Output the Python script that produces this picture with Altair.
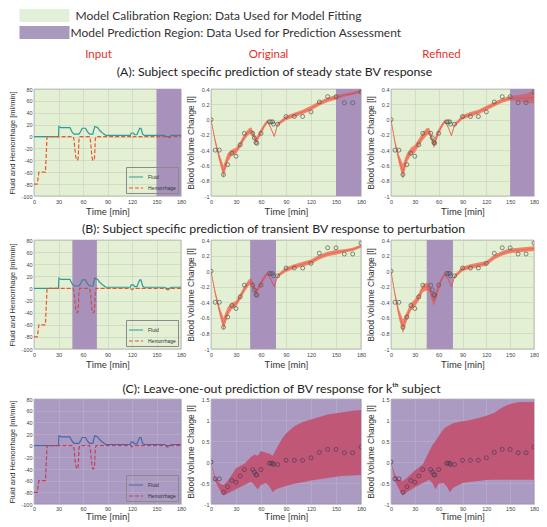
import altair as alt
import pandas as pd

# ---------------- data ----------------
time_ticks = [0, 30, 60, 90, 120, 150, 180]
input_ticks = [-100, -80, -60, -40, -20, 0, 20, 40, 60, 80]
bv_ticks_ab = [-1, -0.8, -0.6, -0.4, -0.2, 0, 0.2, 0.4]
bv_ticks_c = [-1, -0.5, 0, 0.5, 1, 1.5]

series_names = ["Fluid", "Hemorrhage"]
fluid_t = [0, 30, 30.5, 33, 44, 46.5, 49, 55, 57, 59, 63, 65.5, 68, 72, 73, 74.5, 78, 80, 83, 86,
           88, 118, 119, 122, 123, 126, 127.5, 129.5, 131, 133, 135, 160, 162, 166, 168, 180]
fluid_v = [0, 0, 17, 15, 15, 8, 4, 4, 8, 14, 14, 8, 4, 4, 10, 17, 15, 11, 7, 4,
           2, 2, 6, 6, 3, 3, 8, 14, 14, 4, 2, 2, 0, 0, 2, 2]
hem_t = [0, 4, 6, 14, 16, 48, 49, 50, 51, 52, 53, 54, 54.5, 55, 56, 68, 69, 70, 71, 72, 73, 74,
         74.5, 75, 76, 118, 120, 122, 161, 163, 166, 168, 180]
hem_v = [-80, -80, -60, -60, 0, 0, -5, -20, -33, -38, -40, -38, -25, -5, 0, 0, -5, -20, -35, -40, -40, -37,
         -25, -5, 0, 0, -2, 0, 0, -2, -2, 0, 0]

bv_t = [0, 5, 10, 15, 20, 25, 30, 35, 40, 50, 52, 54, 55, 60, 70, 72, 74, 75, 80, 90, 100, 110,
        120, 130, 140, 150, 160, 170, 180]
bv_v = [0, -0.4, -0.4, -0.72, -0.59, -0.44, -0.48, -0.33, -0.18, -0.18, -0.24, -0.30, -0.31, -0.18,
        -0.03, -0.03, -0.03, -0.06, -0.06, 0.04, 0.04, 0.04, 0.1, 0.23, 0.3, 0.3, 0.22, 0.22, 0.36]

band_t = [0, 5, 10, 15, 20, 25, 30, 35, 40, 45, 48, 51, 54, 57, 60, 64, 68, 72, 76, 80, 90, 100,
          110, 120, 130, 140, 150, 160, 170, 180]
origA_lo = [0, -0.31, -0.55, -0.76, -0.56, -0.47, -0.45, -0.37, -0.27, -0.20, -0.18, -0.24, -0.32, -0.26, -0.20,
            -0.11, -0.04, -0.13, -0.23, -0.08, -0.01, 0.03, 0.07, 0.12, 0.18, 0.23, 0.26, 0.30, 0.32, 0.35]
origA_hi = [0, -0.25, -0.45, -0.60, -0.44, -0.39, -0.37, -0.29, -0.19, -0.12, -0.10, -0.16, -0.24, -0.18, -0.12,
            -0.05, 0.00, -0.11, -0.21, -0.04, 0.05, 0.09, 0.13, 0.18, 0.24, 0.29, 0.32, 0.34, 0.36, 0.39]
refA_lo = [0, -0.33, -0.58, -0.78, -0.56, -0.47, -0.43, -0.35, -0.27, -0.21, -0.19, -0.28, -0.38, -0.29, -0.20,
           -0.11, -0.04, -0.11, -0.22, -0.09, 0.00, 0.04, 0.07, 0.12, 0.17, 0.22, 0.25, 0.24, 0.22, 0.21]
refA_hi = [0, -0.27, -0.46, -0.58, -0.44, -0.37, -0.33, -0.25, -0.17, -0.11, -0.11, -0.20, -0.28, -0.19, -0.12,
           -0.05, 0.00, -0.09, -0.20, -0.05, 0.06, 0.10, 0.13, 0.18, 0.23, 0.28, 0.31, 0.32, 0.34, 0.37]
origB_lo = [0, -0.31, -0.55, -0.76, -0.58, -0.49, -0.46, -0.37, -0.27, -0.19, -0.17, -0.23, -0.32, -0.25, -0.20,
            -0.11, -0.05, -0.12, -0.21, -0.08, -0.01, 0.03, 0.06, 0.09, 0.15, 0.19, 0.21, 0.24, 0.26, 0.30]
origB_hi = [0, -0.25, -0.45, -0.60, -0.46, -0.41, -0.38, -0.29, -0.19, -0.11, -0.09, -0.15, -0.24, -0.17, -0.12,
            -0.05, -0.01, -0.10, -0.19, -0.04, 0.05, 0.09, 0.12, 0.15, 0.21, 0.25, 0.27, 0.28, 0.30, 0.34]
refB_lo = [0, -0.33, -0.61, -0.80, -0.64, -0.51, -0.46, -0.38, -0.27, -0.25, -0.26, -0.36, -0.45, -0.36, -0.25,
           -0.13, -0.06, -0.11, -0.21, -0.09, 0.00, 0.03, 0.05, 0.07, 0.15, 0.20, 0.23, 0.24, 0.25, 0.26]
refB_hi = [0, -0.27, -0.49, -0.62, -0.52, -0.41, -0.36, -0.28, -0.17, -0.15, -0.16, -0.24, -0.31, -0.24, -0.15,
           -0.07, -0.02, -0.09, -0.19, -0.05, 0.06, 0.09, 0.11, 0.13, 0.21, 0.26, 0.29, 0.30, 0.31, 0.32]

bandC_t = [0, 5, 10, 15, 20, 30, 40, 48, 52, 56, 60, 66, 70, 74, 78, 85, 90, 100, 110, 120, 130, 140,
           150, 160, 170, 180]
origC_hi = [0, -0.35, -0.5, -0.55, -0.45, -0.15, -0.04, 0.12, 0.18, 0.15, 0.26, 0.22, 0.2, 0.15, 0.3, 0.55,
            0.68, 0.85, 0.95, 1.01, 1.07, 1.13, 1.16, 1.19, 1.22, 1.24]
origC_lo = [0, -0.45, -0.65, -0.8, -0.75, -0.65, -0.55, -0.47, -0.55, -0.65, -0.55, -0.5, -0.58, -0.72, -0.65,
            -0.6, -0.57, -0.52, -0.48, -0.44, -0.41, -0.38, -0.35, -0.33, -0.32, -0.31]
refC_hi = [0, -0.3, -0.42, -0.45, -0.38, -0.2, -0.06, 0.25, 0.4, 0.5, 0.62, 0.78, 0.84, 0.88, 0.92, 0.95,
           0.97, 1.0, 1.05, 1.1, 1.17, 1.3, 1.38, 1.42, 1.43, 1.43]
refC_lo = [0, -0.45, -0.65, -0.8, -0.72, -0.6, -0.5, -0.42, -0.5, -0.65, -0.52, -0.5, -0.58, -0.72, -0.62,
           -0.55, -0.5, -0.47, -0.45, -0.43, -0.42, -0.42, -0.42, -0.42, -0.42, -0.42]

regA = [[150], [180]]
regB_input = [[47], [77]]
regB_orig = [[47], [78]]
regB_ref = [[45], [78]]

legend_labels = ["Model Calibration Region: Data Used for Model Fitting",
                 "Model Prediction Region: Data Used for Prediction Assessment"]
column_labels = ["Input", "Original", "Refined"]
section_titles = ["(A): Subject specific prediction of steady state BV response",
                  "(B): Subject specific prediction of transient BV response to perturbation",
                  "(C): Leave-one-out prediction of BV response for k\u1d57\u02b0 subject"]

# ---------------- styles ----------------
GREEN = "#e4f0d4"
PURPLE_BASE = "#bdb8cc"
PURPLE_OVER = "#783c96"
PURPLE_C = "#ab9bc2"
FLUID = "#2a9d96"
HEM = "#e8562e"
FLUID_C = "#4a68a8"
HEM_C = "#c63c5a"
BAND = "#f07a63"
BAND_LINE = "#e55f48"
BAND_C = "#c2506e"
PT = "#4f5a4a"
PT_C = "#4a3c58"
GRID = "#c2cbb8"
GRID_C = "#bfb3cf"
RED_LABEL = "#e4312b"

XS = alt.Scale(domain=[0, 180], nice=False, zero=False)
W_L, W_M, W_R = 147, 150, 143
H_A, H_B, H_C = 107, 109, 105


def xaxis(lp, tp, gridc):
    return alt.Axis(values=time_ticks, title="Time [min]", grid=True, gridColor=gridc, gridWidth=0.5,
                    ticks=False, domain=False, labelFontSize=5.5, labelFont="Liberation Sans",
                    labelColor="#444", labelPadding=lp, labelFlush=False, labelOverlap=False,
                    titleFont="Lato", titleFontSize=9.5, titleFontWeight="normal", titleColor="#333",
                    titlePadding=tp)


def yaxis(vals, title, tsize, tpad, gridc):
    return alt.Axis(values=vals, title=title, grid=True, gridColor=gridc, gridWidth=0.5,
                    ticks=False, domain=False, labelFontSize=5.5, labelFont="Liberation Sans",
                    labelColor="#444", labelPadding=2, labelFlush=False, labelOverlap=False,
                    labelExpr="'' + datum.value",
                    titleFont="Liberation Sans", titleFontSize=tsize, titleFontWeight="normal",
                    titleColor="#333", titlePadding=tpad)


def region_layers(reg, xax):
    d = pd.DataFrame({"s": reg[0], "e": reg[1]})
    base = alt.Chart(d).mark_rect(color=PURPLE_BASE).encode(
        x=alt.X("s:Q", scale=XS, axis=xax), x2="e:Q")
    over = alt.Chart(d).mark_rect(color=PURPLE_OVER, opacity=0.3).encode(
        x=alt.X("s:Q", scale=XS, axis=xax), x2="e:Q")
    return base, over


def input_panel(w, h, reg, fc, hc, fill, gridc, lp, tp):
    n1, n2 = len(fluid_t), len(hem_t)
    d = pd.DataFrame({"t": fluid_t + hem_t, "v": fluid_v + hem_v,
                      "series": [series_names[0]] * n1 + [series_names[1]] * n2,
                      "i": list(range(n1 + n2))})
    xax = xaxis(lp, tp, gridc)
    ys = alt.Scale(domain=[-100, 80], nice=False, zero=False)
    yax = yaxis(input_ticks, "Fluid and Hemorrhage [ml/min]", 7.5, 4, gridc)
    leg = alt.Legend(orient="bottom-right", title=None, labelFontSize=5, labelFont="Liberation Sans",
                     labelColor="#333", symbolType="stroke", symbolSize=200, symbolStrokeWidth=1.2,
                     rowPadding=0, padding=2, offset=3, strokeColor="#8a8a8a", labelOffset=4)
    lines = alt.Chart(d).mark_line(strokeWidth=1.2, clip=True).encode(
        x=alt.X("t:Q", scale=XS, axis=xax),
        y=alt.Y("v:Q", scale=ys, axis=yax),
        color=alt.Color("series:N", scale=alt.Scale(domain=series_names, range=[fc, hc]), legend=leg),
        strokeDash=alt.StrokeDash("series:N", scale=alt.Scale(domain=series_names, range=[[1, 0], [4, 2]]),
                                  legend=leg),
        order="i:Q")
    if reg is not None:
        base, over = region_layers(reg, xax)
        layers = [base, lines, over]
    else:
        layers = [lines]
    return alt.layer(*layers).properties(
        width=w, height=h, view=alt.ViewBackground(fill=fill, stroke="#8c8c8c", strokeWidth=0.6))


def bv_panel(w, h, t, lo, hi, reg, ydom, yvals, bc, bop, lc, pc, fill, gridc, lp, tp, center=True):
    d = pd.DataFrame({"t": t, "lo": lo, "hi": hi})
    p = pd.DataFrame({"t": bv_t, "v": bv_v})
    xax = xaxis(lp, tp, gridc)
    ys = alt.Scale(domain=ydom, nice=False, zero=False)
    yax = yaxis(yvals, "Blood Volume Change [l]", 8.5, 4, gridc)
    x = alt.X("t:Q", scale=XS, axis=xax)
    band = alt.Chart(d).mark_area(color=bc, opacity=bop, clip=True).encode(
        x=x, y=alt.Y("lo:Q", scale=ys, axis=yax), y2="hi:Q")
    layers = [band]
    if center:
        mid = alt.Chart(d).transform_calculate(m="(datum.lo + datum.hi) / 2").mark_line(
            color=lc, strokeWidth=0.7, clip=True).encode(x=x, y=alt.Y("m:Q", scale=ys, axis=yax))
        layers.append(mid)
    pts = alt.Chart(p).mark_point(shape="circle", filled=False, size=16, strokeWidth=0.7, color=pc,
                                  opacity=1, clip=True).encode(x=x, y=alt.Y("v:Q", scale=ys, axis=yax))
    layers.append(pts)
    if reg is not None:
        base, over = region_layers(reg, xax)
        layers = [base] + layers + [over]
    return alt.layer(*layers).properties(
        width=w, height=h, view=alt.ViewBackground(fill=fill, stroke="#8c8c8c", strokeWidth=0.6))


def row(a, b, c):
    return alt.hconcat(a, b, c, spacing=30, bounds="flush").resolve_scale(
        x="independent", y="independent", color="independent", strokeDash="independent")


one = pd.DataFrame({"k": [0]})


def txt(s, x, y, size, color, align="left"):
    return alt.Chart(one).mark_text(align=align, baseline="middle", font="Lato", fontSize=size,
                                    color=color).encode(x=alt.value(x), y=alt.value(y), text=alt.value(s))


header = alt.layer(
    alt.Chart(one).mark_rect(color="#e2efd9").encode(x=alt.value(-14.5), x2=alt.value(35.5), y=alt.value(1),
                                                     y2=alt.value(14)),
    alt.Chart(one).mark_rect(color="#a999bd").encode(x=alt.value(-14.5), x2=alt.value(35.5), y=alt.value(18),
                                                     y2=alt.value(31)),
    txt(legend_labels[0], 41.5, 8, 12, "#333"),
    txt(legend_labels[1], 36.5, 24.5, 12, "#333"),
    txt(column_labels[0], 64.5, 47, 11.5, RED_LABEL, "center"),
    txt(column_labels[1], 234.5, 47, 11.5, RED_LABEL, "center"),
    txt(column_labels[2], 407.5, 47, 11.5, RED_LABEL, "center"),
    txt(section_titles[0], 240.5, 64, 12.3, "#222", "center"),
).properties(width=495, height=78)

titleB = txt(section_titles[1], 239.5, 11.5, 12.3, "#222", "center").properties(width=495, height=20)
titleC = txt(section_titles[2], 247.5, 19, 12.3, "#222", "center").properties(width=495, height=22)

rowA = row(
    input_panel(W_L, H_A, regA, FLUID, HEM, GREEN, GRID, 3, 2),
    bv_panel(W_M, H_A, band_t, origA_lo, origA_hi, regA, [-1, 0.4], bv_ticks_ab, BAND, 0.9, BAND_LINE, PT,
             GREEN, GRID, 3, 2),
    bv_panel(W_R, H_A, band_t, refA_lo, refA_hi, regA, [-1, 0.4], bv_ticks_ab, BAND, 0.9, BAND_LINE, PT,
             GREEN, GRID, 3, 2),
)
rowB = row(
    input_panel(W_L, H_B, regB_input, FLUID, HEM, GREEN, GRID, 3, 2),
    bv_panel(W_M, H_B, band_t, origB_lo, origB_hi, regB_orig, [-1, 0.4], bv_ticks_ab, BAND, 0.9, BAND_LINE,
             PT, GREEN, GRID, 3, 2),
    bv_panel(W_R, H_B, band_t, refB_lo, refB_hi, regB_ref, [-1, 0.4], bv_ticks_ab, BAND, 0.9, BAND_LINE,
             PT, GREEN, GRID, 3, 2),
)
rowC = row(
    input_panel(W_L, H_C, None, FLUID_C, HEM_C, PURPLE_C, GRID_C, 2, 0),
    bv_panel(W_M, H_C, bandC_t, origC_lo, origC_hi, None, [-1, 1.5], bv_ticks_c, BAND_C, 0.9, BAND_C,
             PT_C, PURPLE_C, GRID_C, 2, 0, center=False),
    bv_panel(W_R, H_C, bandC_t, refC_lo, refC_hi, None, [-1, 1.5], bv_ticks_c, BAND_C, 0.9, BAND_C,
             PT_C, PURPLE_C, GRID_C, 2, 0, center=False),
)

chart = alt.vconcat(header, rowA, titleB, rowB, titleC, rowC, spacing=0).resolve_scale(
    x="independent", y="independent", color="independent", strokeDash="independent"
).properties(padding=0, background="white").configure_view(strokeWidth=0)

chart.save("out.html", embed_options={"renderer": "svg", "actions": False})
